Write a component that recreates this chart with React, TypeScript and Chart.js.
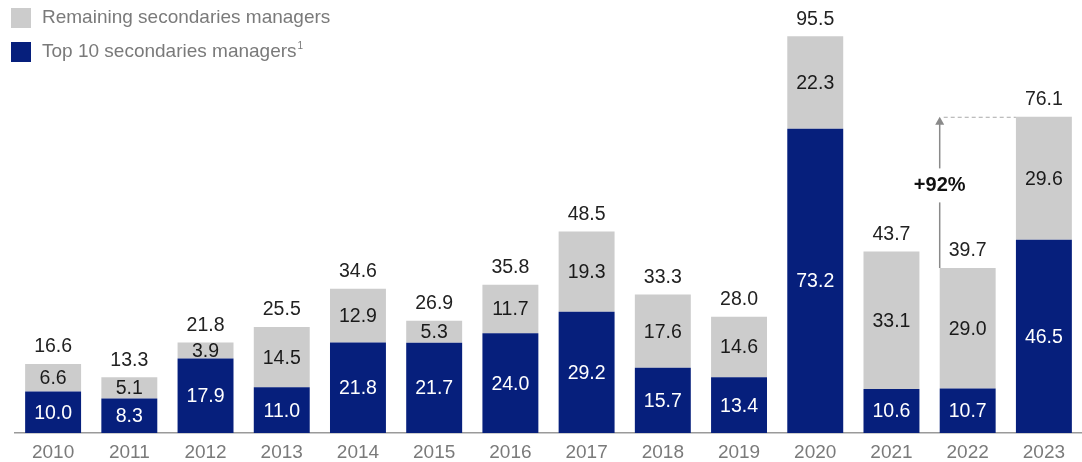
import React, { useEffect, useRef } from "react";
import { Chart, registerables } from "chart.js";

Chart.register(...registerables);

const categories = ["2010","2011","2012","2013","2014","2015","2016","2017","2018","2019","2020","2021","2022","2023"];
const top10 = [10.0, 8.3, 17.9, 11.0, 21.8, 21.7, 24.0, 29.2, 15.7, 13.4, 73.2, 10.6, 10.7, 46.5];
const remaining = [6.6, 5.1, 3.9, 14.5, 12.9, 5.3, 11.7, 19.3, 17.6, 14.6, 22.3, 33.1, 29.0, 29.6];
const totals = ["16.6","13.3","21.8","25.5","34.6","26.9","35.8","48.5","33.3","28.0","95.5","43.7","39.7","76.1"];
const growthLabel = "+92%";
const legendLabels = ["Remaining secondaries managers", "Top 10 secondaries managers"];

const NAVY = "#061f7c";
const GRAY = "#cccccc";
const FONT = "'Liberation Sans', Arial, sans-serif";

const labelsPlugin = {
  id: "customLabels",
  afterDatasetsDraw(chart: any) {
    const ctx = chart.ctx;
    const m0 = chart.getDatasetMeta(0);
    const m1 = chart.getDatasetMeta(1);
    ctx.save();
    ctx.font = `19.5px ${FONT}`;
    ctx.textAlign = "center";
    ctx.textBaseline = "middle";
    m0.data.forEach((el: any, i: number) => {
      const p = el.getProps(["x", "y", "base"], true);
      ctx.fillStyle = "#ffffff";
      ctx.fillText(top10[i].toFixed(1), p.x, (p.y + p.base) / 2 + 1);
    });
    m1.data.forEach((el: any, i: number) => {
      const p = el.getProps(["x", "y", "base"], true);
      ctx.fillStyle = "#1a1a1a";
      ctx.fillText(remaining[i].toFixed(1), p.x, (p.y + p.base) / 2 + 1);
      ctx.fillStyle = "#222222";
      ctx.fillText(totals[i], p.x, p.y - 17);
    });

    // growth annotation between 2022 and 2023
    const a = m1.data[12].getProps(["x", "y", "width"], true);
    const b = m1.data[13].getProps(["x", "y", "width"], true);
    const ax = a.x - a.width / 2;
    const topY = b.y;
    ctx.strokeStyle = "#8a8a8a";
    ctx.lineWidth = 1.5;
    ctx.beginPath();
    ctx.moveTo(ax, a.y);
    ctx.lineTo(ax, topY + 7);
    ctx.stroke();
    ctx.fillStyle = "#8a8a8a";
    ctx.beginPath();
    ctx.moveTo(ax, topY);
    ctx.lineTo(ax - 4.5, topY + 8);
    ctx.lineTo(ax + 4.5, topY + 8);
    ctx.closePath();
    ctx.fill();
    ctx.strokeStyle = "#aaaaaa";
    ctx.lineWidth = 1;
    ctx.setLineDash([4, 3]);
    ctx.beginPath();
    ctx.moveTo(ax + 4, topY + 0.5);
    ctx.lineTo(b.x - b.width / 2, topY + 0.5);
    ctx.stroke();
    ctx.setLineDash([]);
    const ty = (a.y + topY) / 2 - 7;
    ctx.fillStyle = "#ffffff";
    ctx.fillRect(ax - 30, ty - 17, 60, 34);
    ctx.font = `bold 20px ${FONT}`;
    ctx.fillStyle = "#111111";
    ctx.fillText(growthLabel, ax, ty);

    // legend
    const colors = [GRAY, NAVY];
    ctx.textAlign = "left";
    legendLabels.forEach((lab, i) => {
      const y = 8 + i * 34;
      ctx.fillStyle = colors[i];
      ctx.fillRect(11, y, 20, 20);
      ctx.font = `19px ${FONT}`;
      ctx.fillStyle = "#7a7a7a";
      ctx.fillText(lab, 42, y + 10);
      if (i === 1) {
        const w = ctx.measureText(lab).width;
        ctx.font = `10px ${FONT}`;
        ctx.fillText("1", 42 + w + 1, y + 4);
      }
    });
    ctx.restore();
  },
};

export default function App() {
  const ref = useRef<HTMLCanvasElement>(null);
  useEffect(() => {
    if (!ref.current) return;
    const chart = new Chart(ref.current, {
      type: "bar",
      data: {
        labels: categories,
        datasets: [
          { label: legendLabels[1], data: top10, backgroundColor: NAVY, borderWidth: 0 },
          { label: legendLabels[0], data: remaining, backgroundColor: GRAY, borderWidth: 0 },
        ],
      },
      options: {
        animation: false,
        responsive: false,
        maintainAspectRatio: false,
        events: [],
        layout: { padding: { left: 15, right: 0, top: 0, bottom: 0 } },
        plugins: { legend: { display: false }, tooltip: { enabled: false } },
        datasets: { bar: { categoryPercentage: 1, barPercentage: 0.734 } },
        scales: {
          x: {
            stacked: true,
            grid: { display: false, drawTicks: false },
            border: { display: true, color: "#9a9a9a", width: 1.5 },
            ticks: { color: "#7a7a7a", font: { family: FONT, size: 19 }, padding: 8 },
            afterFit: (s: any) => { s.height = 29; },
          },
          y: {
            stacked: true,
            display: false,
            min: 0,
            max: 104.2,
          },
        },
      },
      plugins: [labelsPlugin],
    });
    return () => chart.destroy();
  }, []);
  return (
    <div style={{ position: "absolute", left: 0, top: 0, width: 1082, height: 462, background: "#fff" }}>
      <canvas ref={ref} width={1082} height={462} style={{ width: 1082, height: 462 }} />
    </div>
  );
}
